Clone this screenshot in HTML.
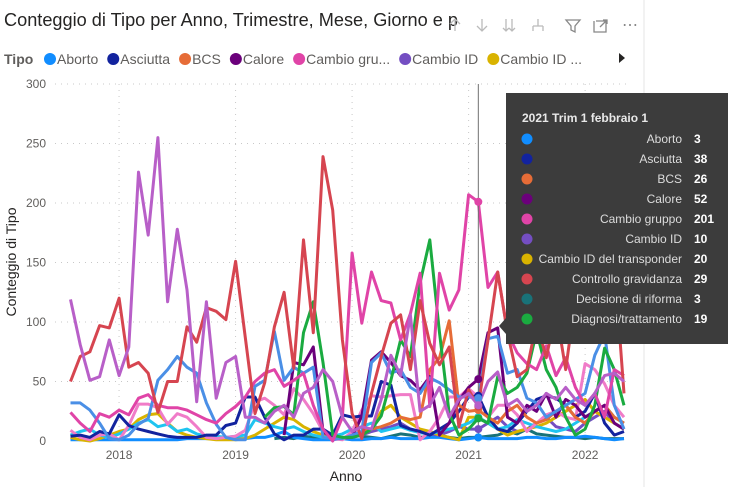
<!DOCTYPE html>
<html><head><meta charset="utf-8">
<style>
body{margin:0;background:#fff;width:751px;height:487px;overflow:hidden;font-family:"Liberation Sans",sans-serif;}
svg{position:absolute;left:0;top:0}
</style></head>
<body>
<svg id="chart" width="751" height="487" xmlns="http://www.w3.org/2000/svg">
  <line x1="644" y1="0" x2="644" y2="487" stroke="#e6e6e6"/>
  <text x="4" y="26" font-size="18" fill="#252423" textLength="454" lengthAdjust="spacingAndGlyphs">Conteggio di Tipo per Anno, Trimestre, Mese, Giorno e p</text>
  <g fill="none" stroke="#bbb" stroke-width="1.3">
    <path d="M455 31 V19 M450 24 L455 19 L460 24"/>
    <path d="M482 19 V31 M477 26 L482 31 L487 26"/>
    <path d="M506 19 V31 M512 19 V31 M503 28 L506 31 L509 28 M509 28 L512 31 L515 28"/>
    <path d="M538 19 V26 M533 26 H543 M533 26 V31 M543 26 V31"/>
    <path d="M566 20 H580 L575 26 V32 L571 30 V26 Z" stroke="#888"/>
    <path d="M596 21 H606 V32 H594 V21 M600 27 L607 20 M603 20 H607 V24" stroke="#888"/>
  </g>
  <text x="622" y="30" font-size="16" fill="#888">⋯</text>
  <g id="legend" font-size="14" fill="#605e5c">
    <text x="4" y="64" font-weight="bold" fill="#605e5c">Tipo</text>
  </g>
  <path d="M619 53 L625 58 L619 63 Z" fill="#252423"/>
  <g id="grid"></g>
  <g id="axes" font-size="12" fill="#605e5c"></g>
  <text transform="translate(16,262) rotate(-90)" text-anchor="middle" font-size="14" fill="#252423">Conteggio di Tipo</text>
  <text x="346" y="481" text-anchor="middle" font-size="14" fill="#252423">Anno</text>
  <g id="series"></g>
  <g id="hover"></g>
  <g id="tooltip"></g>
</svg>
<script>
// months from Aug 2017 (index 0) to May 2022 (index 57)
const yearTicks = [2018, 2019, 2020, 2021, 2022];
const yTicks = [0, 50, 100, 150, 200, 250, 300];
const seriesNames = ["Aborto","Asciutta","BCS","Calore","Cambio gruppo","Cambio ID","Cambio ID del transponder","Controllo gravidanza","Decisione di riforma","Diagnosi/trattamento","Altro A","Altro B","Altro C","Altro D"];
const seriesColors = ["#118DFF","#12239E","#E66C37","#6B007B","#E044A7","#744EC2","#D9B300","#D64550","#197278","#1AAB40","#B85FC8","#4A8FE6","#F07CC8","#1FC4F0"];
const legendLabels = ["Aborto","Asciutta","BCS","Calore","Cambio gru...","Cambio ID","Cambio ID ..."];
const aborto = [1,1,1,1,1,1,1,1,1,1,1,1,2,2,2,2,2,2,2,3,3,5,8,3,2,1,1,1,2,1,1,2,2,3,2,2,2,3,3,2,1,2,3,2,2,2,2,3,3,2,2,3,3,4,3,2,1,2];
const asciutta = [4,5,3,8,6,22,13,10,8,6,4,3,3,3,5,5,13,15,37,37,20,6,1,5,5,10,10,5,22,20,21,21,50,47,13,10,8,5,10,15,25,37,38,20,10,8,15,25,35,38,36,30,20,25,40,15,5,8];
const bcs = [null,null,null,null,null,null,null,null,null,null,null,null,null,null,null,null,null,null,null,null,null,null,null,null,null,null,null,null,null,5,8,10,12,15,20,18,20,60,70,101,30,25,26,20,15,25,30,20,15,18,25,30,20,15,25,30,20,15];
const calore = [null,null,null,null,null,null,null,null,null,null,null,null,null,null,null,null,null,null,null,null,null,null,5,66,64,79,8,2,3,3,21,68,75,66,55,51,43,54,5,15,34,45,52,91,95,20,15,30,25,40,20,35,30,20,25,30,15,10];
const cambioGruppo = [24,15,8,23,20,26,22,36,39,30,28,28,26,22,18,15,23,29,37,50,57,60,46,51,57,30,10,0,20,158,99,142,118,116,85,107,141,29,141,110,127,207,201,129,142,91,74,65,60,80,55,70,45,30,40,20,60,55];
const cambioID = [null,null,null,null,null,null,null,null,null,null,null,null,null,null,null,null,null,null,null,null,null,null,null,null,null,null,null,null,2,3,5,8,10,12,15,10,8,6,5,8,12,10,10,15,20,12,8,10,15,20,12,10,8,15,20,25,15,10];
const transponder = [3,1,0,2,5,8,10,18,22,23,15,8,5,3,2,1,1,1,2,5,10,15,20,18,12,8,5,3,2,4,5,10,25,30,20,15,10,8,5,3,1,20,20,15,10,5,8,10,12,15,20,25,30,35,25,20,15,10];
const gravidanza = [50,71,75,97,95,120,62,66,57,24,50,50,96,83,112,109,102,151,87,23,49,96,125,61,169,91,239,194,85,23,2,40,71,99,106,60,118,82,64,79,12,43,29,85,142,91,54,60,100,70,110,60,120,90,185,100,150,40];
const riforma = [null,null,null,null,null,null,null,null,null,null,null,null,null,null,null,null,null,null,null,null,null,2,3,2,4,3,2,3,2,5,4,3,2,4,6,5,3,4,5,3,2,3,3,4,5,8,6,10,6,5,4,3,3,2,3,2,2,2];
const diagnosi = [null,null,null,null,null,null,null,null,null,null,null,null,null,null,null,null,null,null,null,null,20,28,29,22,91,117,66,5,3,3,5,10,21,51,85,71,133,169,91,23,5,10,19,15,54,40,45,57,92,60,45,20,5,10,30,78,60,30];
const altroA = [119,81,51,54,85,55,79,226,173,255,117,178,127,33,117,36,66,71,20,20,15,25,30,20,40,45,60,50,20,8,12,10,35,72,55,106,25,30,45,20,35,40,30,50,58,30,35,25,30,40,35,45,35,30,40,55,57,50];
const altroB = [32,32,26,15,2,1,5,14,19,51,60,71,62,57,32,14,3,1,1,46,51,92,51,62,57,62,3,2,2,5,8,66,74,57,60,45,40,53,49,43,37,37,36,86,88,57,60,36,32,20,25,30,35,40,72,90,30,10];
const altroC = [9,3,1,5,6,1,13,31,31,28,14,23,20,12,3,2,3,4,9,33,36,30,22,44,35,23,8,2,1,8,26,38,37,38,39,39,1,8,20,37,37,44,37,20,30,30,22,8,15,22,25,20,18,65,60,48,30,20];
const altroD = [5,8,10,5,3,6,10,15,18,12,14,8,10,6,4,4,3,4,5,18,15,12,10,12,8,5,3,4,6,10,12,15,8,10,12,9,7,6,8,10,12,15,20,15,10,12,18,15,12,10,8,10,15,20,25,30,20,15];
const allSeries = [aborto,asciutta,bcs,calore,cambioGruppo,cambioID,transponder,gravidanza,riforma,diagnosi,altroA,altroB,altroC,altroD];
const drawOrder = [8,0,5,6,13,12,1,2,3,11,9,4,7,10];
const hoverIndex = 42;
const hoverTitle = "2021 Trim 1 febbraio 1";

const NS = "http://www.w3.org/2000/svg";
const X0 = 70.5, MW = 9.71;
const Y0 = 441, YS = 357 / 300;
function xMonth(i){ return X0 + i * MW; }
function xYear(y){ return X0 + ((y - 2017) * 12 - 7) * MW; }
function yVal(v){ return Y0 - v * YS; }
function mk(tag, attrs, parent){ const e = document.createElementNS(NS, tag); for (const k in attrs) e.setAttribute(k, attrs[k]); parent.appendChild(e); return e; }

const grid = document.getElementById('grid'), axes = document.getElementById('axes');
yTicks.forEach(t => {
  if (t > 0) {
    const l = mk('line', {x1:55, x2:630, y1:yVal(t), y2:yVal(t), stroke:'#c8c8c8', 'stroke-dasharray':'1 5'}, grid);
    
    
  }
  const tx = mk('text', {x:46, y:yVal(t)+4, 'text-anchor':'end'}, axes);
  tx.textContent = t;
  
  
});
yearTicks.forEach(y => {
  const l = mk('line', {x1:xYear(y), x2:xYear(y), y1:84, y2:441, stroke:'#c8c8c8', 'stroke-dasharray':'1 5'}, grid);
  
  
  const tx = mk('text', {x:xYear(y), y:459, 'text-anchor':'middle'}, axes);
  tx.textContent = y;
  
  
});

const legend = document.getElementById('legend');
let lx = 44;
legendLabels.forEach((nm, i) => {
  const c = mk('circle', {cx:lx+6, cy:59, r:6, fill:seriesColors[i]}, legend);
  
  
  const t = mk('text', {x:lx+13, y:64}, legend);
  t.textContent = nm;
  
  
  lx += 13 + t.getComputedTextLength() + 9;
});

const sg = document.getElementById('series');
drawOrder.forEach(si => {
  const arr = allSeries[si];
  let d = "", pen = false;
  arr.forEach((v, i) => {
    if (v === null || v === undefined) { pen = false; return; }
    d += (pen ? "L" : "M") + xMonth(i).toFixed(1) + " " + yVal(v).toFixed(1) + " ";
    pen = true;
  });
  const p = mk('path', {d:d, fill:'none', stroke:seriesColors[si], 'stroke-width':3, 'stroke-linejoin':'round'}, sg);
  
  
});

const hg = document.getElementById('hover');
const hx = xMonth(hoverIndex);
const hl = mk('line', {x1:hx, x2:hx, y1:84, y2:441, stroke:'#707070', 'stroke-width':1}, hg);


drawOrder.forEach(si => {
  const v = allSeries[si][hoverIndex];
  if (v === null || v === undefined) return;
  const c = mk('circle', {cx:hx, cy:yVal(v), r:4, fill:seriesColors[si]}, hg);
  
  
});

const tg = document.getElementById('tooltip');
const box = mk('rect', {x:506, y:93, width:222, height:251, fill:'#3c3c3c'}, tg);


const arrow = mk('path', {d:'M506 318 L499 326 L506 334 Z', fill:'#3c3c3c'}, tg);


const tt = mk('text', {x:522, y:122, fill:'#e8e8e8', 'font-size':12, 'font-weight':'bold'}, tg);
tt.textContent = hoverTitle;


for (let i = 0; i < 10; i++) {
  const cy = 139 + i * 20;
  const c = mk('circle', {cx:527, cy:cy, r:5.5, fill:seriesColors[i]}, tg);
  
  
  const l = mk('text', {x:682, y:cy+4, 'text-anchor':'end', fill:'#dcdcdc', 'font-size':12}, tg);
  l.textContent = seriesNames[i];
  
  
  const v = mk('text', {x:694, y:cy+4, fill:'#ffffff', 'font-size':12, 'font-weight':'bold'}, tg);
  v.textContent = allSeries[i][hoverIndex];
  
  
}
</script>
</body></html>
